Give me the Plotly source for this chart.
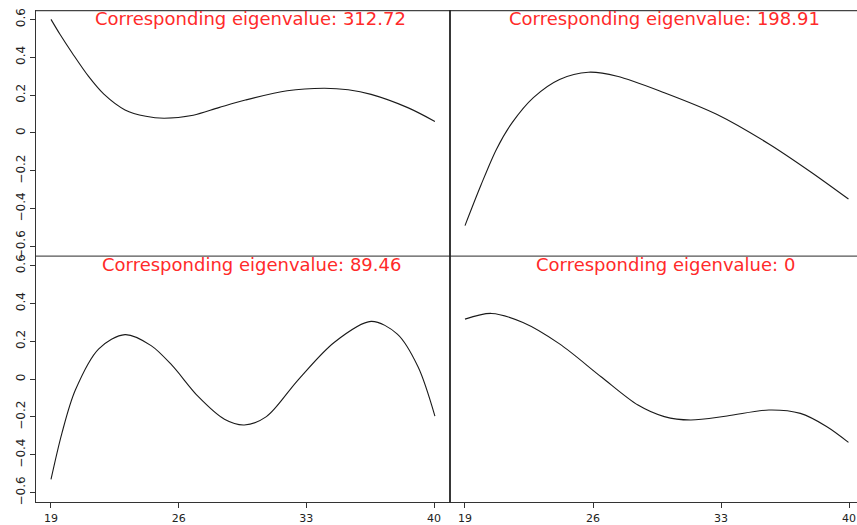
import plotly.graph_objects as go

OFF = 0  # body margin removed in post_script
W, H = 857, 525
XR = 857  # page x where the right panel ends (window edge)

# ---- data ----
ages1 = [19.0, 19.5, 20.18, 21.05, 21.9, 23.06, 24.2, 25.2, 26.8, 28.2, 29.66, 31.95, 33.97, 35.3, 36.55, 38.56, 40.05]
vec1 = [0.60, 0.52, 0.42, 0.30, 0.205, 0.122, 0.088, 0.078, 0.094, 0.134, 0.174, 0.223, 0.236, 0.228, 0.204, 0.134, 0.061]

ages2 = [19.0, 19.87, 20.73, 21.59, 22.74, 24.17, 25.75, 27.32, 29.9, 32.76, 35.62, 37.91, 39.97]
vec2 = [-0.489, -0.276, -0.084, 0.056, 0.187, 0.283, 0.321, 0.30, 0.213, 0.099, -0.058, -0.206, -0.349]

ages3 = [19.0, 19.6, 20.33, 21.62, 23.06, 24.49, 25.64, 27.08, 28.51, 29.6, 30.81, 32.53, 34.54, 36.55, 37.99, 39.13, 40.05]
vec3 = [-0.53, -0.285, -0.059, 0.16, 0.235, 0.177, 0.072, -0.093, -0.212, -0.242, -0.198, -0.006, 0.195, 0.305, 0.238, 0.064, -0.195]

ages4 = [19.0, 20.45, 22.17, 24.17, 26.46, 28.46, 29.9, 31.33, 33.33, 35.62, 37.34, 38.77, 39.97]
vec4 = [0.317, 0.347, 0.299, 0.186, 0.011, -0.137, -0.198, -0.216, -0.195, -0.163, -0.181, -0.25, -0.334]

titles = ["Corresponding eigenvalue: 312.72", "Corresponding eigenvalue: 198.91",
          "Corresponding eigenvalue: 89.46", "Corresponding eigenvalue: 0"]
x_ticks = [19, 26, 33, 40]
y_ticks = [-0.6, -0.4, -0.2, 0, 0.2, 0.4, 0.6]
y_tick_text = ["\u22120.6", "\u22120.4", "\u22120.2", "0", "0.2", "0.4", "0.6"]

# ---- layout geometry (page pixels) ----
xl0, xmid = 36, 450
yt0, ymid, yb1 = 8, 256.5, 505

def fx(p):
    return (p - OFF) / W

def fy(p):
    return 1 - (p - OFF) / H

fig = go.Figure()
series = [(ages1, vec1), (ages2, vec2), (ages3, vec3), (ages4, vec4)]
for i, (xs, ys) in enumerate(series, start=1):
    fig.add_trace(go.Scatter(
        x=xs, y=ys, mode="lines", line=dict(color="#1a1a1a", width=1.1, shape="spline", smoothing=0.9),
        xaxis=f"x{'' if i == 1 else i}", yaxis=f"y{'' if i == 1 else i}", showlegend=False, hoverinfo="skip"))

tickfont = dict(family="DejaVu Sans", size=11, color="#222")
ytickfont = dict(family="DejaVu Sans", size=12, color="#222")
axcol = "#333"
left_range = [18.178, 40.877]
right_range = [18.18, 40.437]
yr = [-0.65, 0.65]

common_x = dict(showgrid=False, zeroline=False, tickmode="array", tickvals=x_ticks,
                tickfont=tickfont, ticklen=5, tickcolor=axcol, linecolor=axcol, linewidth=1.2,
                ticklabeloverflow="allow")
common_y = dict(showgrid=False, zeroline=False, range=yr, tickmode="array", tickvals=y_ticks,
                ticktext=y_tick_text, tickfont=ytickfont, ticklen=5, tickcolor=axcol,
                linecolor=axcol, linewidth=1.2, tickangle=-90, ticklabeloverflow="allow")

fig.update_layout(
    width=W, height=H, margin=dict(l=0, r=0, t=0, b=0),
    paper_bgcolor="white", plot_bgcolor="white",
    xaxis=dict(domain=[fx(xl0), fx(xmid)], range=left_range, anchor="y", showticklabels=False,
               ticks="", showline=False, **common_x),
    yaxis=dict(domain=[fy(ymid), fy(yt0)], anchor="x", ticks="outside", showline=True, **common_y),
    xaxis2=dict(domain=[fx(xmid), fx(XR)], range=right_range, anchor="y2", showticklabels=False,
                ticks="", showline=False, **common_x),
    yaxis2=dict(domain=[fy(ymid), fy(yt0)], anchor="x2", showticklabels=False, ticks="",
                showline=False, **common_y),
    xaxis3=dict(domain=[fx(xl0), fx(xmid)], range=left_range, anchor="y3", ticks="outside",
                showline=True, **common_x),
    yaxis3=dict(domain=[fy(yb1), fy(ymid)], anchor="x3", ticks="outside", showline=True, **common_y),
    xaxis4=dict(domain=[fx(xmid), fx(XR)], range=right_range, anchor="y4", ticks="outside",
                showline=True, **common_x),
    yaxis4=dict(domain=[fy(yb1), fy(ymid)], anchor="x4", showticklabels=False, ticks="",
                showline=False, **common_y),
)

# frame lines (top edge, middle horizontal, middle vertical)
fig.add_shape(type="line", xref="paper", yref="paper", x0=fx(xl0), x1=fx(XR), y0=fy(yt0 + 0.7), y1=fy(yt0 + 0.7),
              line=dict(color="#444", width=1.3))
fig.add_shape(type="line", xref="paper", yref="paper", x0=fx(xl0), x1=fx(XR), y0=fy(ymid), y1=fy(ymid),
              line=dict(color="#555", width=1.3))
fig.add_shape(type="line", xref="paper", yref="paper", x0=fx(xmid), x1=fx(xmid), y0=fy(yb1), y1=fy(yt0),
              line=dict(color="#222", width=1.8))

# panel titles
title_pos = [(250.7, 16.5), (664.5, 16.5), (251.5, 265.0), (665.6, 265.0)]
for t, (px, py) in zip(titles, title_pos):
    fig.add_annotation(text=t, xref="paper", yref="paper", x=fx(px), y=fy(py),
                       xanchor="center", yanchor="middle", showarrow=False,
                       font=dict(family="DejaVu Sans", size=18, color="#ff2a2a"))

fig.write_html("out.html", config={"displayModeBar": False, "staticPlot": True},
               post_script="document.body.style.margin='0';document.body.style.overflow='hidden';")
